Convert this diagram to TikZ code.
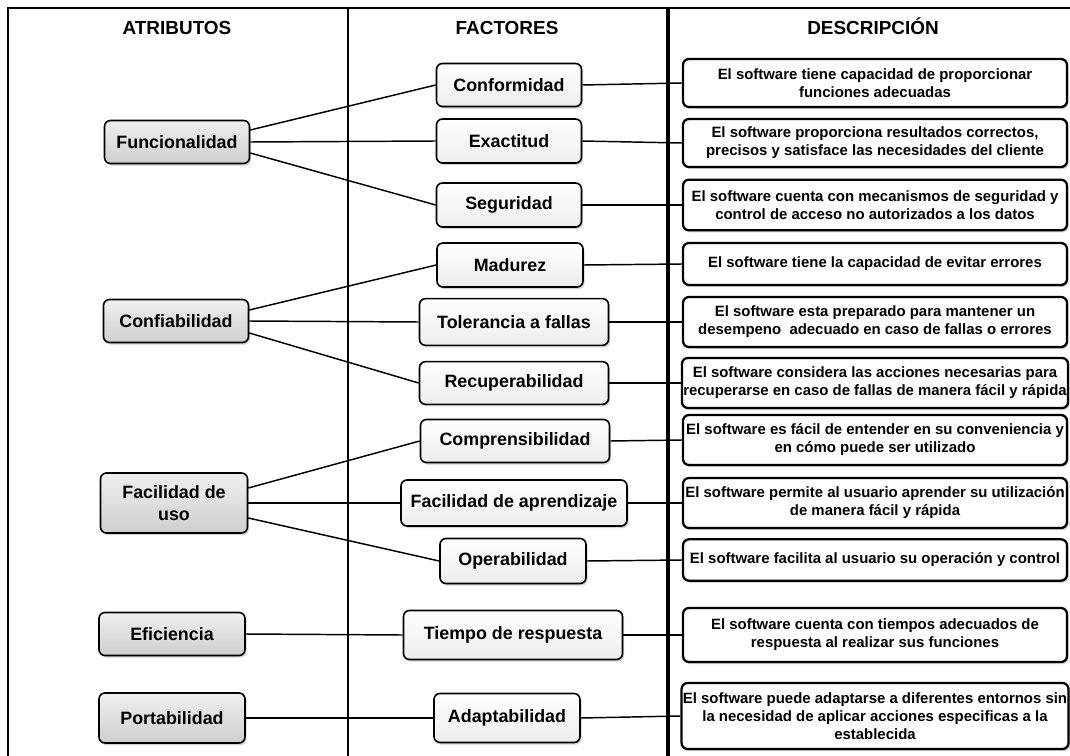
\documentclass[tikz,border=0pt]{standalone}
\usepackage{fontspec}
\setmainfont{Liberation Sans}
\usetikzlibrary{shadows,calc}

\begin{document}
\begin{tikzpicture}[x=0.75pt,y=-0.75pt,
  frameline/.style={black,line width=1.5pt},
  header/.style={font=\fontsize{14.2}{17}\selectfont\bfseries,anchor=base},
  boxbase/.style={draw=black,rounded corners=4.5pt,align=center,inner sep=1pt,
    drop shadow={shadow xshift=1.2pt,shadow yshift=-1.6pt,opacity=.35}},
  attr/.style={boxbase,line width=1.2pt,top color=gray!12,bottom color=gray!38,
    font=\fontsize{13.4}{16.5}\selectfont\bfseries},
  fact/.style={boxbase,line width=1.2pt,top color=white,bottom color=gray!14,
    font=\fontsize{13.4}{16.5}\selectfont\bfseries},
  desc/.style={boxbase,line width=1.7pt,fill=white,minimum width=288pt,
    font=\fontsize{11.2}{13.5}\selectfont\bfseries},
  link/.style={black,line width=1.1pt}
]
\useasboundingbox (0,0) rectangle (1070,756);

% column frame, open towards the right and the bottom
\draw[frameline] (8,756) -- (8,8) -- (1070,8);
\draw[frameline] (348,8) -- (348,756);
\draw[black,line width=2.3pt] (668,8) -- (668,756);

% column headings
\node[header] (hatr) at (177,35) {ATRIBUTOS};
\node[header] (hfac) at (507,35) {FACTORES};
\node[header] (hdes) at (873,35) {DESCRIPCIÓN};

% attributes
\node[attr,minimum width=108.75pt,minimum height=32.25pt] (fun) at (177,142) {Funcionalidad};
\node[attr,minimum width=108.75pt,minimum height=32.25pt] (cnf) at (176,321) {Confiabilidad};
\node[attr,minimum width=110.25pt,minimum height=45pt] (fac) at (174,503) {Facilidad de\\uso};
\node[attr,minimum width=109.5pt,minimum height=32.25pt] (efi) at (172,634) {Eficiencia};
\node[attr,minimum width=109.5pt,minimum height=37.5pt] (por) at (172,718) {Portabilidad};

% factors
\node[fact,minimum width=108.75pt,minimum height=32.25pt] (conf) at (509,85) {Conformidad};
\node[fact,minimum width=108.75pt,minimum height=33pt] (exa) at (509,141) {Exactitud};
\node[fact,minimum width=108.75pt,minimum height=33pt] (seg) at (509,205) {Seguridad};
\node[fact,minimum width=109.5pt,minimum height=33pt] (mad) at (510,265) {Madurez};
\node[fact,minimum width=141.75pt,minimum height=35pt] (tol) at (514,322) {Tolerancia a fallas};
\node[fact,minimum width=141.75pt,minimum height=32pt] (rec) at (514,383) {Recuperabilidad};
\node[fact,minimum width=141.75pt,minimum height=32.25pt] (com) at (515,441) {Comprensibilidad};
\node[fact,minimum width=169.5pt,minimum height=34.5pt] (apr) at (514,503) {Facilidad de aprendizaje};
\node[fact,minimum width=109.5pt,minimum height=33.75pt] (ope) at (513,561) {Operabilidad};
\node[fact,minimum width=164.25pt,minimum height=36.75pt] (tie) at (513,635) {Tiempo de respuesta};
\node[fact,minimum width=109.5pt,minimum height=36.75pt] (ada) at (507,718) {Adaptabilidad};

% descriptions
\node[desc,minimum height=36pt] (d1) at (875,83) {El software tiene capacidad de proporcionar\\funciones adecuadas};
\node[desc,minimum height=36pt] (d2) at (875,143) {El software proporciona resultados correctos,\\precisos y satisface las necesidades del cliente};
\node[desc,minimum height=38pt] (d3) at (875,205) {El software cuenta con mecanismos de seguridad y\\control de acceso no autorizados a los datos};
\node[desc,minimum height=31.5pt] (d4) at (875,264) {El software tiene la capacidad de evitar errores};
\node[desc,minimum height=37.5pt] (d5) at (875,322) {El software esta preparado para mantener un\\desempeno\ \ adecuado en caso de fallas o errores};
\node[desc,minimum height=37.5pt] (d6) at (875,383) {El software considera las acciones necesarias para\\recuperarse en caso de fallas de manera fácil y rápida};
\node[desc,minimum height=37.5pt] (d7) at (875,440) {El software es fácil de entender en su conveniencia y\\en cómo puede ser utilizado};
\node[desc,minimum height=37.5pt] (d8) at (875,503) {El software permite al usuario aprender su utilización\\de manera fácil y rápida};
\node[desc,minimum height=31pt] (d9) at (875,560) {El software facilita al usuario su operación y control};
\node[desc,minimum height=40.5pt] (d10) at (875,635) {El software cuenta con tiempos adecuados de\\respuesta al realizar sus funciones};
\node[desc,minimum height=49.5pt] (d11) at (875,716) {El software puede adaptarse a diferentes entornos sin\\la necesidad de aplicar acciones especificas a la\\establecida};

% attribute -> factor links
\draw[link] ($(fun.east)+(0,-12)$) -- (conf.west);
\draw[link] (fun.east) -- (exa.west);
\draw[link] ($(fun.east)+(0,11)$) -- (seg.west);
\draw[link] ($(cnf.east)+(0,-11)$) -- (mad.west);
\draw[link] (cnf.east) -- (tol.west);
\draw[link] ($(cnf.east)+(0,12)$) -- (rec.west);
\draw[link] ($(fac.east)+(0,-15)$) -- (com.west);
\draw[link] (fac.east) -- (apr.west);
\draw[link] ($(fac.east)+(0,15)$) -- (ope.west);
\draw[link] (efi.east) -- (tie.west);
\draw[link] (por.east) -- (ada.west);

% factor -> description links
\draw[link] (conf.east) -- (d1.west);
\draw[link] (exa.east) -- (d2.west);
\draw[link] (seg.east) -- (d3.west);
\draw[link] (mad.east) -- (d4.west);
\draw[link] (tol.east) -- (d5.west);
\draw[link] (rec.east) -- (d6.west);
\draw[link] (com.east) -- (d7.west);
\draw[link] (apr.east) -- (d8.west);
\draw[link] (ope.east) -- (d9.west);
\draw[link] (tie.east) -- (d10.west);
\draw[link] (ada.east) -- (d11.west);
\end{tikzpicture}
\end{document}
